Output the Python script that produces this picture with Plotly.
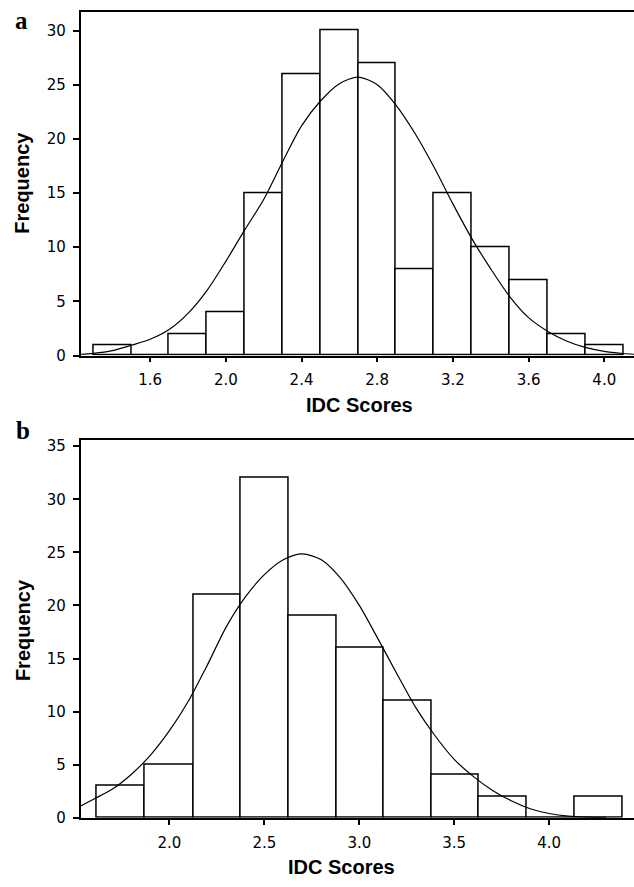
import plotly.graph_objects as go

# ---------------- data: panel a ----------------
a_bin_edges = [1.3, 1.5, 1.7, 1.9, 2.1, 2.3, 2.5, 2.7, 2.9, 3.1, 3.3, 3.5, 3.7, 3.9, 4.1]
a_counts = [1, 0, 2, 4, 15, 26, 30, 27, 8, 15, 10, 7, 2, 1]
a_curve_x = [1.233, 1.30, 1.40, 1.50, 1.60, 1.70, 1.80, 1.90, 2.00, 2.10, 2.20, 2.30,
             2.40, 2.50, 2.60, 2.70, 2.80, 2.90, 3.00, 3.10, 3.20, 3.30, 3.40, 3.50,
             3.60, 3.70, 3.80, 3.90, 4.00, 4.10, 4.157]
a_curve_y = [0.12, 0.2, 0.45, 0.95, 1.5, 2.4, 3.9, 6.0, 8.7, 11.6, 14.4, 17.9,
             21.2, 23.5, 25.1, 25.7, 25.0, 23.1, 20.5, 17.4, 14.0, 10.8, 8.0, 5.45,
             3.5, 2.25, 1.35, 0.75, 0.38, 0.19, 0.12]
a_xticks = [1.6, 2.0, 2.4, 2.8, 3.2, 3.6, 4.0]
a_xticklabels = ["1.6", "2.0", "2.4", "2.8", "3.2", "3.6", "4.0"]
a_yticks = [0, 5, 10, 15, 20, 25, 30]

# ---------------- data: panel b ----------------
b_bin_edges = [1.617, 1.872, 2.127, 2.377, 2.630, 2.880, 3.126, 3.381, 3.627, 3.883, 4.136, 4.387]
b_counts = [3, 5, 21, 32, 19, 16, 11, 4, 2, 0, 2]
b_curve_x = [1.5325, 1.6, 1.7, 1.8, 1.9, 2.0, 2.1, 2.2, 2.3, 2.4, 2.5, 2.6, 2.7,
             2.8, 2.9, 3.0, 3.1, 3.2, 3.3, 3.4, 3.5, 3.6, 3.7, 3.8, 3.9, 4.0,
             4.1, 4.2, 4.3]
b_curve_y = [1.1, 1.75, 2.7, 4.1, 5.9, 8.2, 11.0, 14.4, 18.0, 20.8, 22.9, 24.3, 24.85,
             24.3, 22.6, 20.0, 16.8, 13.5, 10.3, 7.7, 5.5, 3.9, 2.6, 1.6, 0.85, 0.4,
             0.15, 0.06, 0.03]
b_xticks = [2.0, 2.5, 3.0, 3.5, 4.0]
b_xticklabels = ["2.0", "2.5", "3.0", "3.5", "4.0"]
b_yticks = [0, 5, 10, 15, 20, 25, 30, 35]

W, H = 634, 887

def mids(edges):
    return [(edges[i] + edges[i + 1]) / 2 for i in range(len(edges) - 1)]

def widths(edges):
    return [edges[i + 1] - edges[i] for i in range(len(edges) - 1)]

fig = go.Figure()

fig.add_trace(go.Bar(x=mids(a_bin_edges), y=a_counts, width=widths(a_bin_edges),
                     marker=dict(color="white", line=dict(color="black", width=1.5)),
                     xaxis="x", yaxis="y", showlegend=False))
fig.add_trace(go.Scatter(x=a_curve_x, y=a_curve_y, mode="lines",
                         line=dict(color="black", width=1.2, shape="spline", smoothing=0.8),
                         xaxis="x", yaxis="y", showlegend=False))

fig.add_trace(go.Bar(x=mids(b_bin_edges), y=b_counts, width=widths(b_bin_edges),
                     marker=dict(color="white", line=dict(color="black", width=1.5)),
                     xaxis="x2", yaxis="y2", showlegend=False))
fig.add_trace(go.Scatter(x=b_curve_x, y=b_curve_y, mode="lines",
                         line=dict(color="black", width=1.2, shape="spline", smoothing=0.8),
                         xaxis="x2", yaxis="y2", showlegend=False))

left = 80.7 / W
tick_font = dict(family="DejaVu Sans", size=15, color="black")

def xaxis_cfg(rng, ticks, labels, anchor):
    return dict(range=rng, domain=[left, 1.0], anchor=anchor, tickvals=ticks, ticktext=labels,
                ticks="outside", ticklen=5, tickwidth=1.5, tickcolor="black",
                showline=True, linecolor="black", linewidth=1.8, mirror=True,
                showgrid=False, zeroline=False, tickfont=tick_font, ticklabelstandoff=5)

def yaxis_cfg(rng, ticks, domain, anchor):
    return dict(range=rng, domain=domain, anchor=anchor, tickvals=ticks,
                ticks="outside", ticklen=6, tickwidth=1.5, tickcolor="black",
                showline=True, linecolor="black", linewidth=1.8, mirror=False,
                showgrid=False, zeroline=False, tickfont=tick_font, ticklabelstandoff=4)

fig.update_layout(
    width=W, height=H, margin=dict(l=0, r=0, t=0, b=0),
    paper_bgcolor="white", plot_bgcolor="white", bargap=0,
    xaxis=xaxis_cfg([1.233, 4.157], a_xticks, a_xticklabels, "y"),
    yaxis=yaxis_cfg([0, 31.7], a_yticks, [1 - 358 / H, 1 - 10.3 / H], "x"),
    xaxis2=xaxis_cfg([1.5325, 4.447], b_xticks, b_xticklabels, "y2"),
    yaxis2=yaxis_cfg([0, 35.6], b_yticks, [1 - 826 / H, 1 - 443.3 / H], "x2"),
)

title_font = dict(family="Liberation Sans", size=20, color="black")
label_font = dict(family="Liberation Serif", size=25, color="black")

def ann(text, x, y, font, angle=0):
    fig.add_annotation(text=text, x=x / W, y=1 - y / H, xref="paper", yref="paper",
                       showarrow=False, font=font, textangle=angle,
                       xanchor="center", yanchor="middle")

ann("<b>a</b>", 21.5, 19, label_font)
ann("<b>b</b>", 23, 434, label_font)
ann("<b>Frequency</b>", 22, 183, title_font, -90)
ann("<b>Frequency</b>", 23, 636, title_font, -90)
ann("<b>IDC Scores</b>", 359, 408, title_font)
ann("<b>IDC Scores</b>", 341, 876, title_font)

fig.write_html("out.html", config={"displayModeBar": False},
               post_script="document.body.style.margin='0';document.body.style.overflow='hidden';")
